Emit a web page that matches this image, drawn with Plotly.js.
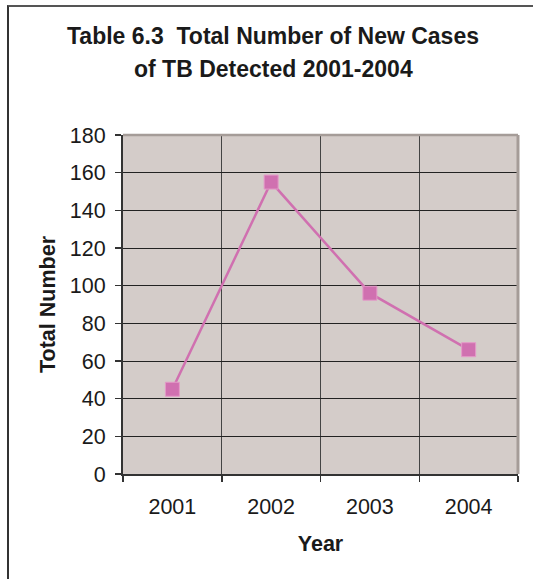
<!DOCTYPE html>
<html>
<head>
<meta charset="utf-8">
<script src="https://cdn.plot.ly/plotly-3.0.1.min.js"></script>
<style>
  html, body { margin: 0; padding: 0; background: #fff; overflow: hidden; }
  #chart { width: 533px; height: 579px; position: absolute; left: 0; top: 0; }
  #frame { position: absolute; left: 7px; top: 5px; width: 600px; height: 700px;
           border-left: 2px solid #333; border-top: 2px solid #555; pointer-events: none; }
</style>
</head>
<body>
<div id="chart"></div>
<div id="frame"></div>
<script>
const years = ['2001', '2002', '2003', '2004'];
const totalCases = [45, 155, 96, 66];
const yTicks = [0, 20, 40, 60, 80, 100, 120, 140, 160, 180];
const titleLine1 = 'Table 6.3  Total Number of New Cases';
const titleLine2 = 'of TB Detected 2001-2004';

const font = 'Liberation Sans, Arial, sans-serif';

const trace = {
  x: years,
  y: totalCases,
  type: 'scatter',
  mode: 'lines+markers',
  line: { color: '#D070B0', width: 2.5 },
  marker: { symbol: 'square', size: 14, color: '#D070B0', line: { color: '#E49AC8', width: 1 } },
  hoverinfo: 'x+y'
};

const layout = {
  width: 533,
  height: 579,
  margin: { l: 123, r: 15, t: 135, b: 105 },
  paper_bgcolor: '#ffffff',
  plot_bgcolor: '#D4CCC9',
  showlegend: false,
  font: { family: font, color: '#1a1a1a' },
  title: {
    text: '<b>' + titleLine1 + '</b>',
    font: { family: font, size: 23, color: '#1a1a1a' },
    x: 273 / 533, xanchor: 'center', xref: 'container',
    y: 1 - 36 / 579, yanchor: 'middle', yref: 'container'
  },
  annotations: [{
    text: '<b>' + titleLine2 + '</b>',
    font: { family: font, size: 23, color: '#1a1a1a' },
    xref: 'paper', yref: 'paper',
    x: (273 - 123) / 395, y: 1 + (135 - 69) / 339,
    xanchor: 'center', yanchor: 'middle', showarrow: false
  }],
  xaxis: {
    type: 'category',
    range: [-0.5, 3.5],
    tickson: 'boundaries',
    ticks: 'outside', ticklen: 6, tickcolor: '#333', tickwidth: 1.5,
    ticklabelstandoff: 12,
    showgrid: true, gridcolor: '#444', gridwidth: 1,
    showline: true, linecolor: '#333', linewidth: 2,
    tickfont: { family: font, size: 21.5, color: '#1a1a1a' },
    title: { text: '<b>Year</b>', font: { family: font, size: 21.5, color: '#1a1a1a' }, standoff: 18 },
    fixedrange: true
  },
  yaxis: {
    range: [0, 180],
    tickvals: yTicks,
    ticktext: yTicks.map(String),
    ticks: 'outside', ticklen: 6, tickcolor: '#333', tickwidth: 1.5,
    ticklabelstandoff: 5,
    showgrid: true, gridcolor: '#222', gridwidth: 1,
    zeroline: false,
    showline: true, linecolor: '#333', linewidth: 2,
    tickfont: { family: font, size: 21.5, color: '#1a1a1a' },
    title: { text: '<b>Total Number</b>', font: { family: font, size: 21.5, color: '#1a1a1a' }, standoff: 8 },
    fixedrange: true
  },
  shapes: [
    { type: 'line', xref: 'paper', yref: 'paper', x0: 0, x1: 1, y0: 1, y1: 1,
      line: { color: '#A59C98', width: 2.5 } },
    { type: 'line', xref: 'paper', yref: 'paper', x0: 1, x1: 1, y0: 0, y1: 1,
      line: { color: '#A59C98', width: 3 } }
  ]
};

Plotly.newPlot('chart', [trace], layout, { displayModeBar: false, staticPlot: true });
</script>
</body>
</html>
